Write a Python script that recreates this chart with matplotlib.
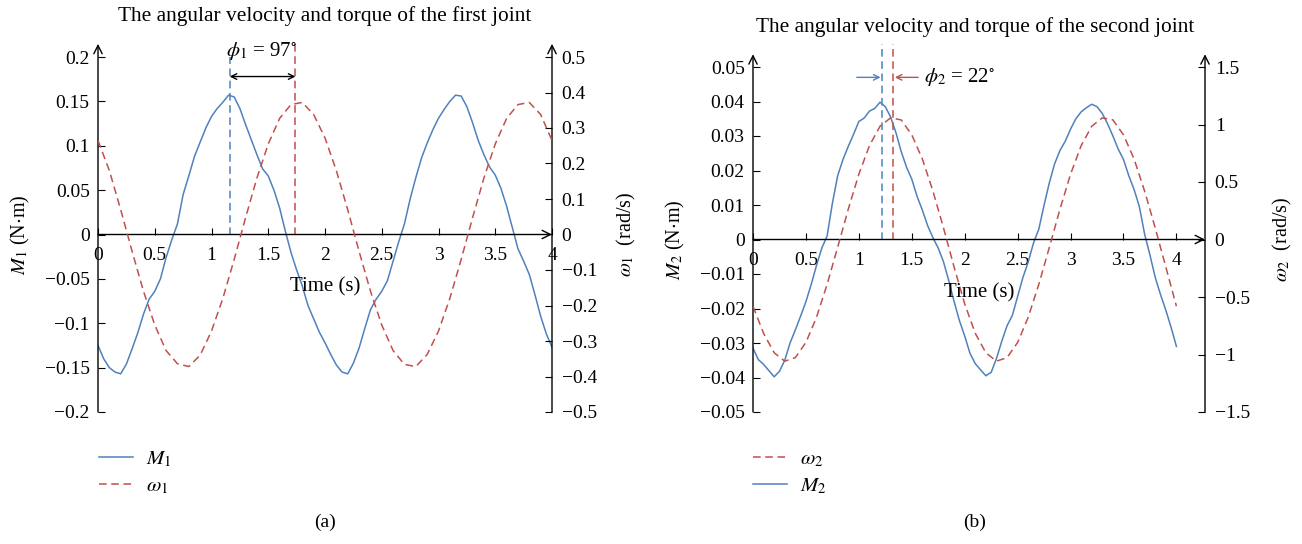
import numpy as np
import matplotlib
matplotlib.use('Agg')
import matplotlib.pyplot as plt
from matplotlib.ticker import FuncFormatter, MultipleLocator

plt.rcParams['font.family'] = ['Liberation Serif', 'DejaVu Serif']
plt.rcParams['mathtext.fontset'] = 'stix'

BLUE = '#4f81bd'
RED = '#c0504d'

# time bases (s)
t_m = np.linspace(0, 4, 81)   # torque samples, 0.05 s
t_w = np.linspace(0, 4, 41)   # velocity samples, 0.1 s

# first joint: torque M1 (N·m)
m1 = [-0.125, -0.140, -0.150, -0.155, -0.157, -0.146, -0.129, -0.111, -0.090, -0.073,
      -0.064, -0.050, -0.026, -0.006, 0.012, 0.045, 0.066, 0.088, 0.104, 0.120,
      0.133, 0.142, 0.149, 0.157, 0.155, 0.142, 0.124, 0.107, 0.090, 0.074,
      0.066, 0.050, 0.030, 0.004, -0.020, -0.040, -0.058, -0.080, -0.095, -0.110,
      -0.122, -0.135, -0.147, -0.155, -0.157, -0.145, -0.128, -0.106, -0.085, -0.073,
      -0.064, -0.052, -0.030, -0.008, 0.012, 0.040, 0.064, 0.086, 0.103, 0.118,
      0.131, 0.141, 0.150, 0.157, 0.156, 0.144, 0.126, 0.106, 0.090, 0.076,
      0.067, 0.052, 0.032, 0.008, -0.016, -0.030, -0.045, -0.068, -0.092, -0.112,
      -0.127]
# first joint: angular velocity w1 (rad/s)
w1 = [0.265, 0.180, 0.070, -0.047, -0.159, -0.255, -0.327, -0.364, -0.372, -0.340,
      -0.272, -0.180, -0.070, 0.047, 0.159, 0.255, 0.327, 0.366, 0.372, 0.338,
      0.272, 0.180, 0.070, -0.047, -0.159, -0.255, -0.327, -0.366, -0.372, -0.338,
      -0.272, -0.180, -0.070, 0.047, 0.159, 0.255, 0.327, 0.366, 0.372, 0.338,
      0.265]
# second joint: torque M2 (N·m)
m2 = [-0.0315, -0.0348, -0.0362, -0.0380, -0.0398, -0.0382, -0.0350, -0.0300, -0.0262, -0.0222,
      -0.0180, -0.0130, -0.0075, -0.0025, 0.0010, 0.0105, 0.0185, 0.0232, 0.0270, 0.0305,
      0.0342, 0.0352, 0.0372, 0.0380, 0.0398, 0.0385, 0.0355, 0.0310, 0.0255, 0.0210,
      0.0175, 0.0125, 0.0085, 0.0040, 0.0005, -0.0025, -0.0065, -0.0120, -0.0180, -0.0235,
      -0.0280, -0.0330, -0.0360, -0.0378, -0.0395, -0.0385, -0.0345, -0.0295, -0.0250, -0.0220,
      -0.0165, -0.0110, -0.0065, -0.0010, 0.0030, 0.0100, 0.0165, 0.0220, 0.0258, 0.0285,
      0.0320, 0.0350, 0.0370, 0.0382, 0.0392, 0.0385, 0.0365, 0.0335, 0.0300, 0.0262,
      0.0232, 0.0185, 0.0145, 0.0095, 0.0015, -0.0045, -0.0110, -0.0160, -0.0205, -0.0255,
      -0.0310]
# second joint: angular velocity w2 (rad/s)
w2 = [-0.580, -0.816, -0.985, -1.058, -1.027, -0.895, -0.676, -0.390, -0.067, 0.264,
      0.568, 0.816, 0.985, 1.058, 1.040, 0.910, 0.700, 0.420, 0.100, -0.240,
      -0.560, -0.816, -0.985, -1.058, -1.027, -0.895, -0.676, -0.390, -0.067, 0.264,
      0.568, 0.816, 0.985, 1.058, 1.040, 0.910, 0.700, 0.420, 0.100, -0.240,
      -0.580]

W, H = 1302, 544


def fmt(v, pos):
    v = round(v, 6) + 0.0
    return f'{v:g}'.replace('-', '\u2212')


def panel(fig, left, right_px, top, bottom, xmax, ylim_m, ylim_w, step_m, step_w):
    ax = fig.add_axes([left / W, 1 - bottom / H, (right_px - left) / W, (bottom - top) / H])
    ax.set_xlim(0, xmax)
    ax.set_ylim(*ylim_m)
    ax2 = ax.twinx()
    ax2.set_ylim(*ylim_w)
    for a in (ax, ax2):
        for s in ('top', 'left', 'right', 'bottom'):
            a.spines[s].set_visible(False)
        a.patch.set_visible(False)
    ax.spines['bottom'].set_position(('data', 0))
    ax.set_xticks(np.arange(0, 4.01, 0.5))
    ax.xaxis.set_major_formatter(FuncFormatter(fmt))
    ax.yaxis.set_major_locator(MultipleLocator(step_m))
    ax.yaxis.set_major_formatter(FuncFormatter(fmt))
    ax2.yaxis.set_major_locator(MultipleLocator(step_w))
    ax2.yaxis.set_major_formatter(FuncFormatter(fmt))
    ax.tick_params(axis='x', direction='in', length=5, width=0.8, labelsize=14, pad=9)
    ax.tick_params(axis='y', direction='in', length=5, width=0.8, labelsize=14, pad=6)
    ax2.tick_params(axis='y', direction='in', length=5, width=0.8, labelsize=14, pad=7)

    arrow = dict(arrowstyle='->,head_length=0.6,head_width=0.3', color='black', lw=1,
                 shrinkA=0, shrinkB=0)
    # vertical axes with arrow heads
    for xf in (0, 1):
        ax.annotate('', xy=(xf, 1.037), xytext=(xf, 0), xycoords='axes fraction',
                    arrowprops=arrow, annotation_clip=False)
    # time axis through zero
    ax.annotate('', xy=(1.0, 0), xytext=(0, 0), xycoords=('axes fraction', 'data'),
                arrowprops=arrow, annotation_clip=False)
    return ax, ax2


fig = plt.figure(figsize=(W / 100, H / 100), dpi=100)

# ---- (a) first joint
axa, axa2 = panel(fig, 98, 552, 57, 412, 4.0, (-0.2, 0.2), (-0.5, 0.5), 0.05, 0.1)
la, = axa.plot(t_m, m1, color=BLUE, lw=1.1, label='$M_1$')
lb, = axa2.plot(t_w, w1, color=RED, lw=1.1, ls=(0, (5, 3)), label=r'$\omega_1$')
axa.plot([1.16, 1.16], [0, 0.2], color=BLUE, lw=1.1, ls=(0, (5, 3)), clip_on=False)
axa.plot([1.74, 1.74], [0, 0.215], color=RED, lw=1.1, ls=(0, (5, 3)), clip_on=False)
axa.annotate('', xy=(1.16, 0.178), xytext=(1.74, 0.178),
             arrowprops=dict(arrowstyle='<->', color='black', lw=1, shrinkA=0, shrinkB=0))
axa.text(1.13, 0.207, r'$\phi_1$ = 97$^{\circ}$', fontsize=15, va='center', clip_on=False)
axa.set_ylabel(r'$M_1$ (N$\cdot$m)', fontsize=14.5)
axa.yaxis.set_label_coords(-0.145, 0.5)
axa2.set_ylabel(r'$\omega_1$  (rad/s)', fontsize=14.5)
axa2.yaxis.set_label_coords(1.139, 0.5)
fig.legend(handles=[la, lb], loc='upper left', bbox_to_anchor=(99 / W, 1 - 450 / H),
           frameon=False, fontsize=15, handlelength=1.65, handletextpad=0.6,
           labelspacing=0.35, borderpad=0, borderaxespad=0)

# ---- (b) second joint
axb, axb2 = panel(fig, 753, 1205, 67, 412, 4.27, (-0.05, 0.05), (-1.5, 1.5), 0.01, 0.5)
lc, = axb2.plot(t_w, w2, color=RED, lw=1.1, ls=(0, (5, 3)), label=r'$\omega_2$')
ld, = axb.plot(t_m, m2, color=BLUE, lw=1.1, label='$M_2$')
axb.plot([1.216, 1.216], [0, 0.0568], color=BLUE, lw=1.1, ls=(0, (5, 3)), clip_on=False)
axb.plot([1.325, 1.325], [0, 0.0568], color=RED, lw=1.1, ls=(0, (5, 3)), clip_on=False)
axb.annotate('', xy=(1.205, 0.047), xytext=(0.98, 0.047),
             arrowprops=dict(arrowstyle='->', color=BLUE, lw=1, shrinkA=0, shrinkB=0))
axb.annotate('', xy=(1.34, 0.047), xytext=(1.56, 0.047),
             arrowprops=dict(arrowstyle='->', color=RED, lw=1, shrinkA=0, shrinkB=0))
axb.text(1.62, 0.047, r'$\phi_2$ = 22$^{\circ}$', fontsize=15, va='center')
axb.set_ylabel(r'$M_2$ (N$\cdot$m)', fontsize=14.5)
axb.yaxis.set_label_coords(-0.147, 0.5)
axb2.set_ylabel(r'$\omega_2$  (rad/s)', fontsize=14.5)
axb2.yaxis.set_label_coords(1.145, 0.5)
fig.legend(handles=[lc, ld], loc='upper left', bbox_to_anchor=(753 / W, 1 - 450 / H),
           frameon=False, fontsize=15, handlelength=1.65, handletextpad=0.6,
           labelspacing=0.35, borderpad=0, borderaxespad=0)

# titles and captions
fig.text(325 / W, 1 - 16 / H, 'The angular velocity and torque of the first joint',
         ha='center', va='center', fontsize=15.4)
fig.text(975 / W, 1 - 27 / H, 'The angular velocity and torque of the second joint',
         ha='center', va='center', fontsize=15.4)
fig.text(325 / W, 1 - 287 / H, 'Time (s)', ha='center', va='center', fontsize=15)
fig.text(979 / W, 1 - 293 / H, 'Time (s)', ha='center', va='center', fontsize=15)
fig.text(325 / W, 1 - 522 / H, '(a)', ha='center', va='center', fontsize=14)
fig.text(975 / W, 1 - 522 / H, '(b)', ha='center', va='center', fontsize=14)

fig.savefig('out.png', dpi=100)
